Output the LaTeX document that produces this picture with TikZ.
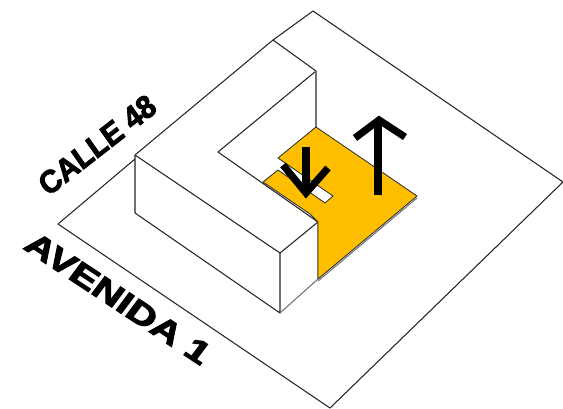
\documentclass[tikz,border=0pt]{standalone}
\usepackage{fontspec}
\setmainfont{Liberation Sans}
\definecolor{amber}{HTML}{FFBF00}
\tikzset{
  edge/.style={draw=black!85,line width=0.8pt,line join=round},
  thin edge/.style={draw=black!55,line width=0.8pt,line join=round},
  arrowline/.style={draw=black,line width=5.4pt,line join=miter},
  street/.style={font=\bfseries\fontsize{24}{24}\selectfont,inner sep=0pt,text=black,transform shape}
}
\begin{document}
\begin{tikzpicture}[x=0.75pt,y=-0.75pt]
\useasboundingbox (0,0) rectangle (563,408);
\coordinate (s1) at (58,224);
\coordinate (s1b) at (135,159);
\coordinate (s2) at (313,11);
\coordinate (s3) at (563,182);
\coordinate (s4) at (330,408);
\coordinate (b1) at (135,155);
\coordinate (b2) at (273,40);
\coordinate (b3) at (316,71);
\coordinate (b4) at (316,127);
\coordinate (c) at (218,152);
\coordinate (f) at (280,253);
\coordinate (fb) at (280,313);
\coordinate (lb) at (135,213);
\coordinate (r) at (318,222);
\coordinate (rb) at (318,279);
\coordinate (e) at (417,196);
% site outline
\draw[edge] (s1b) -- (s1) -- (s4);
\draw[edge] (b2) -- (s2) -- (s3) -- (s4);
% building
\fill[white] (b1) -- (b2) -- (b3) -- (b4) -- (r) -- (rb) -- (fb) -- (lb) -- cycle;
\draw[edge] (b1) -- (b2) -- (b3) -- (c) -- (r);
\draw[thin edge] (b3) -- (b4);
\draw[edge] (b1) -- (f) -- (r);
\draw[edge] (b1) -- (lb) -- (fb) -- (f);
\draw[thin edge] (fb) -- (rb) -- (r);
% patio
\draw[thin edge] (e) ++(0,2) -- (318,281);
\fill[amber,draw=black!85,line width=0.6pt,line join=round]
  (b4) -- (e) -- (rb) -- (r) -- (310,214) -- (263,182) -- (278,170) -- (325,203) -- (333,196) -- (278,158) -- cycle;
% arrows
\draw[arrowline] (378,195) -- (378,122);
\draw[arrowline] (355,138) -- (379,120) -- (405,137);
\draw[arrowline] (306,147) -- (306,188);
\draw[arrowline] (283,165) -- (306,193) -- (328,168);
% street names
\begin{scope}[cm={1.06,-0.70,0.6,0.8,(22,248)}]
\node[street,anchor=base west] (avenida) at (0,0) {\addfontfeature{FakeBold=3}AVENIDA 1};
\end{scope}
\begin{scope}[cm={0.73,0.57,-0.56,0.8,(48,197)}]
\node[street,anchor=base west] (calle) at (0,0) {\addfontfeature{FakeBold=3}CALLE 48};
\end{scope}
\end{tikzpicture}
\end{document}
